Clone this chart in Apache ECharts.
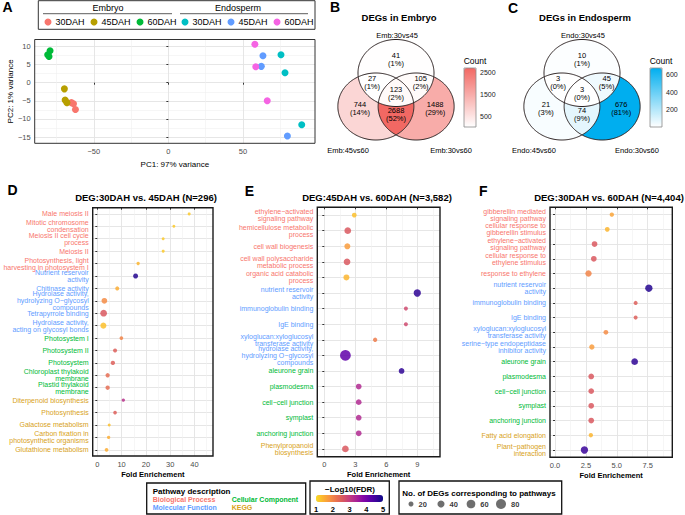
<!DOCTYPE html>
<html><head><meta charset="utf-8">
<script src="https://cdn.jsdelivr.net/npm/echarts@6/dist/echarts.min.js"></script>
<style>html,body{margin:0;padding:0;background:#fff}#c{width:685px;height:515px}</style>
</head><body><div id="c"></div>
<script>
// ================= DATA =================
// Panel A (PCA)
const pcaGroups = ['Embryo 30DAH','Embryo 45DAH','Embryo 60DAH','Endosperm 30DAH','Endosperm 45DAH','Endosperm 60DAH'];
const pcaEmb30 = [[-65,-5.5],[-63.6,-5.8],[-62.3,-7.4]];
const pcaEmb45 = [[-69.7,-1.7],[-69.2,-4.8],[-68,-5.5]];
const pcaEmb60 = [[-79.3,8.8],[-80.9,7.7],[-80,7.2]];
const pcaEndo30 = [[75.5,7.7],[78.2,2.75],[89.4,-11.6]];
const pcaEndo45 = [[63.4,7.4],[62.3,4.5],[79.8,-14.7]];
const pcaEndo60 = [[58,10.6],[58.6,4.4],[66.3,-5]];
const pcaXTicks = [-50,0,50];
const pcaYTicks = [-15,-10,-5,0,5,10];

// Panels B, C (Venn) — regions: A only, A∩B, A∩C, A∩B∩C, B only, B∩C, C only
const embSets = ['Emb:30vs45','Emb:45vs60','Emb:30vs60'];
const embCounts = [41,27,105,123,744,2688,1488];
const embPct = ['1%','1%','2%','2%','14%','52%','29%'];
const embCountTicks = [500,1500,2500];
const endoSets = ['Endo:30vs45','Endo:45vs60','Endo:30vs60'];
const endoCounts = [10,3,45,3,21,74,676];
const endoPct = ['1%','0%','5%','0%','3%','9%','81%'];
const endoCountTicks = [200,400,600];

// Panel D
const dTerms = ['Male meiosis II','Mitotic chromosome\ncondensation','Meiosis II cell cycle\nprocess','Meiosis II',
  'Photosynthesis, light\nharvesting in photosystem I','Nutrient reservoir\nactivity','Chitinase activity',
  'Hydrolase activity,\nhydrolyzing O\u2212glycosyl\ncompounds','Tetrapyrrole binding','Hydrolase activity,\nacting on glycosyl bonds',
  'Photosystem I','Photosystem II','Photosystem','Chloroplast thylakoid\nmembrane','Plastid thylakoid\nmembrane',
  'Diterpenoid biosynthesis','Photosynthesis','Galactose metabolism','Carbon fixation in\nphotosynthetic organisms','Glutathione metabolism'];
const dType = ['BP','BP','BP','BP','BP','MF','MF','MF','MF','MF','CC','CC','CC','CC','CC','KEGG','KEGG','KEGG','KEGG','KEGG'];
const dFold = [37.8,31.5,27.1,27.1,16.8,15.75,8.2,2.9,2.6,2.5,9.9,7.3,6.4,4.25,4.25,10.7,7.3,4.9,4.65,3.8];
const dFDR = [1.2,1.2,1.2,1.2,1.4,4.8,1.5,1.9,2.6,1.3,2.0,2.5,2.5,2.3,2.3,3.2,2.5,1.3,1.5,1.5];
const dGenes = [7,7,7,7,9,20,13,26,36,29,11,13,15,15,15,9,11,7,9,11];
const dXTicks = [0,10,20,30,40];

// Panel E
const eTerms = ['ethylene\u2212activated\nsignaling pathway','hemicellulose metabolic\nprocess','cell wall biogenesis',
  'cell wall polysaccharide\nmetabolic process','organic acid catabolic\nprocess','nutrient reservoir\nactivity',
  'immunoglobulin binding','IgE binding','xyloglucan:xyloglucosyl\ntransferase activity',
  'hydrolase activity,\nhydrolyzing O\u2212glycosyl\ncompounds','aleurone grain','plasmodesma','cell\u2212cell junction',
  'symplast','anchoring junction','Phenylpropanoid\nbiosynthesis'];
const eType = ['BP','BP','BP','BP','BP','MF','MF','MF','MF','MF','CC','CC','CC','CC','CC','KEGG'];
const eFold = [2.9,2.27,2.23,2.2,2.14,9.0,7.9,7.9,4.92,2.04,7.48,3.33,3.33,3.33,3.33,2.04];
const eFDR = [1.3,2.6,1.7,2.6,1.4,4.7,2.8,2.8,2.1,4.2,4.7,3.3,3.3,3.3,3.3,2.6];
const eGenes = [18,36,29,36,29,43,13,13,15,91,26,26,26,26,26,36];
const eXTicks = [0,3,6,9];

// Panel F
const fTerms = ['gibberellin mediated\nsignaling pathway','cellular response to\ngibberellin stimulus',
  'ethylene\u2212activated\nsignaling pathway','cellular response to\nethylene stimulus','response to ethylene',
  'nutrient reservoir\nactivity','immunoglobulin binding','IgE binding','xyloglucan:xyloglucosyl\ntransferase activity',
  'serine\u2212type endopeptidase\ninhibitor activity','aleurone grain','plasmodesma','cell\u2212cell junction','symplast',
  'anchoring junction','Fatty acid elongation','Plant\u2212pathogen\ninteraction'];
const fType = ['BP','BP','BP','BP','BP','MF','MF','MF','MF','MF','CC','CC','CC','CC','CC','KEGG','KEGG'];
const fFold = [4.6,4.23,3.2,3.14,2.71,7.6,6.53,6.53,4.12,2.98,6.45,2.93,2.93,2.93,2.93,2.9,2.38];
const fFDR = [1.6,1.4,2.6,2.6,2.0,4.8,2.5,2.5,1.9,1.7,4.7,2.6,2.6,2.6,2.6,1.4,4.6];
const fGenes = [15,18,26,26,32,43,13,13,18,23,36,26,26,26,26,15,43];
const fXTicks = [0,2.5,5,7.5];

// Legends
const fdrTicks = [1,2,3,4,5];
const sizeLegendValues = [20,40,60,80];
const pathwayTypes = ['Biological Process','Molecular Function','Cellular Component','KEGG'];

// ================= STYLE / LAYOUT =================
const FONT = "'Liberation Sans', Arial, Helvetica, sans-serif";
const TYPE_COLOR = {BP:'#F8766D', MF:'#619CFF', CC:'#00BA38', KEGG:'#D8A21A'};
const PCA_COLORS = ['#F8766D','#B79F00','#00BA38','#00BFC4','#619CFF','#F564E3'];
const PLASMA = ['#F9DC24','#FCB52F','#F89441','#E9744F','#D9585F','#C43E80','#A92395','#8707A6','#6001A9','#3A049A','#0D0887'];
const SIZE_K = 1.12;
const GRID_MAJ = '#E3E3E3', GRID_MIN = '#F0F0F0';

// Venn layout (circle centres in layout units, radius 1)
const VC = [[0,1],[-0.53,0],[0.53,0]];
const MASKS = [[1,0,0],[1,1,0],[1,0,1],[1,1,1],[0,1,0],[0,1,1],[0,0,1]];
const LABEL_POS = [[0,1.39],[-0.63,0.72],[0.65,0.72],[0,0.40],[-0.95,-0.07],[0,-0.25],[1.03,-0.07]];

function regionPolygon(mask) {
  const N = 720, arcs = [];
  for (let k = 0; k < 3; k++) {
    const flags = [], pts = [];
    for (let i = 0; i < N; i++) {
      const t = 2 * Math.PI * i / N;
      const p = [VC[k][0] + Math.cos(t), VC[k][1] + Math.sin(t)];
      let ok = true;
      for (let j = 0; j < 3; j++) {
        if (j === k) continue;
        const inside = Math.hypot(p[0] - VC[j][0], p[1] - VC[j][1]) < 1;
        if (inside !== (mask[j] === 1)) { ok = false; break; }
      }
      flags.push(ok); pts.push(p);
    }
    const f0 = flags.indexOf(false);
    if (f0 < 0) { arcs.push(pts); continue; }
    let run = null;
    for (let s = 1; s <= N; s++) {
      const i = (f0 + s) % N;
      if (flags[i]) { (run = run || []).push(pts[i]); }
      else if (run) { arcs.push(mask[k] ? run : run.reverse()); run = null; }
    }
    if (run) arcs.push(mask[k] ? run : run.reverse());
  }
  const poly = arcs.shift();
  while (arcs.length) {
    const last = poly[poly.length - 1];
    let bi = 0, bd = Infinity;
    arcs.forEach((a, i) => { const d = Math.hypot(a[0][0] - last[0], a[0][1] - last[1]); if (d < bd) { bd = d; bi = i; } });
    poly.push(...arcs.splice(bi, 1)[0]);
  }
  return poly;
}
const REGION_POLY = MASKS.map(regionPolygon);
const CIRCLE_POLY = VC.map(c => { const a = []; for (let i = 0; i < 240; i++) { const t = 2*Math.PI*i/240; a.push([c[0]+Math.cos(t), c[1]+Math.sin(t)]); } return a; });

// ================= BUILD OPTION =================
const grids = [], xAxes = [], yAxes = [], series = [], visualMaps = [], graphics = [];
function addGrid(g) { grids.push(Object.assign({show:false, containLabel:false}, g)); return grids.length - 1; }
function txt(text, x, y, size, opts) {
  graphics.push({type:'text', x, y, silent:true, z:100,
    style:Object.assign({text, fontSize:size, fontFamily:FONT, fill:'#000', align:'center', verticalAlign:'middle'}, opts || {})});
}
const minus = v => (v < 0 ? '\u2212' + Math.abs(v) : String(v));

function valuePair(kind, gi, min, max, major, minor, fmt, extra) {
  const arr = kind === 'x' ? xAxes : yAxes;
  const idx = arr.length;
  arr.push(Object.assign({
    type:'value', gridIndex:gi, min, max,
    axisLine:{show:false},
    axisTick:{show:true, length:2, lineStyle:{color:'#333', width:1}, customValues:major},
    axisLabel:{show:true, customValues:major, formatter:fmt || minus, fontSize:7.5, color:'#4D4D4D', fontFamily:FONT, margin:4},
    splitLine:{show:true, lineStyle:{color:GRID_MAJ, width:0.9}}
  }, extra || {}));
  arr.push({type:'value', gridIndex:gi, min, max, axisLine:{show:false},
    axisTick:{show:false, customValues:minor}, axisLabel:{show:false, customValues:minor},
    splitLine:{show:true, lineStyle:{color:GRID_MIN, width:0.6}}});
  return idx;
}
function catY(gi, terms, types) {
  const idx = yAxes.length;
  yAxes.push({type:'category', gridIndex:gi, data:terms, inverse:true, boundaryGap:true,
    axisLine:{show:false},
    axisTick:{show:true, alignWithLabel:true, length:2, lineStyle:{color:'#333'}},
    axisLabel:{interval:0, fontSize:7, lineHeight:7, margin:4, fontFamily:FONT, color:(v, i) => TYPE_COLOR[types[i]]},
    splitLine:{show:false}});
  const vals = terms.map((_, i) => i + 0.5);
  yAxes.push({type:'value', gridIndex:gi, min:0, max:terms.length, inverse:true, axisLine:{show:false},
    axisTick:{show:false, customValues:vals}, axisLabel:{show:false, customValues:vals},
    splitLine:{show:true, lineStyle:{color:GRID_MAJ, width:0.9}}});
  return idx;
}

// ---------- Panel A ----------
const gA = addGrid({left:34.7, top:39.5, width:280.3, height:103.8, show:true, borderColor:'#333', borderWidth:1, z:5});
const xA = valuePair('x', gA, -89.6, 98.3, pcaXTicks, [-75,-25,25,75],
  null, {name:'PC1: 97% variance', nameLocation:'middle', nameGap:17, nameTextStyle:{fontSize:8, fontFamily:FONT, color:'#000'}});
const yA = valuePair('y', gA, -16.7, 11.9, pcaYTicks, [-12.5,-7.5,-2.5,2.5,7.5],
  null, {name:'PC2: 1% variance', nameLocation:'middle', nameGap:20, nameRotate:90, nameTextStyle:{fontSize:8, fontFamily:FONT, color:'#000'}});
[pcaEmb30, pcaEmb45, pcaEmb60, pcaEndo30, pcaEndo45, pcaEndo60].forEach((d, i) => {
  series.push({type:'scatter', name:pcaGroups[i], xAxisIndex:xA, yAxisIndex:yA, data:d, symbolSize:7,
    itemStyle:{color:PCA_COLORS[i], opacity:1}, z:3});
});
const legendA = [
  {data:pcaGroups.slice(0,3), left:44.5, top:17.5},
  {data:pcaGroups.slice(3), left:181.5, top:17.5}
].map(l => Object.assign({icon:'circle', itemWidth:7, itemHeight:7, itemGap:6, padding:0, selectedMode:false,
  textStyle:{fontSize:9, fontFamily:FONT, color:'#000', padding:[0,0,0,-1]}, formatter:n => n.split(' ')[1]}, l));
graphics.push({type:'rect', silent:true, shape:{x:38.3, y:0.7, width:276.7, height:28.6}, style:{fill:'none', stroke:'#333', lineWidth:1}});
graphics.push({type:'line', silent:true, shape:{x1:43, y1:13.7, x2:172, y2:13.7}, style:{stroke:'#333', lineWidth:0.8}});
graphics.push({type:'line', silent:true, shape:{x1:180, y1:13.7, x2:308, y2:13.7}, style:{stroke:'#333', lineWidth:0.8}});
txt('Embryo', 108, 7.5, 9);
txt('Endosperm', 238, 7.5, 9);

// ---------- Panels B, C (Venn) ----------
function venn(cx, sets, counts, pcts, ticks, hiColor, titleText) {
  const gi = addGrid({left:cx - 1.6*38, top:106.5 - 2.2*33.5, width:3.2*38, height:3.5*33.5});
  const xi = xAxes.length; xAxes.push({type:'value', gridIndex:gi, min:-1.6, max:1.6, show:false});
  const yi = yAxes.length; yAxes.push({type:'value', gridIndex:gi, min:-1.3, max:2.2, show:false});
  const regIdx = series.length;
  series.push({type:'custom', coordinateSystem:'cartesian2d', xAxisIndex:xi, yAxisIndex:yi, silent:true, z:2,
    data:counts.map((c, i) => [0, 0, c, i]),
    renderItem:(p, api) => ({type:'polygon', shape:{points:REGION_POLY[api.value(3)].map(q => api.coord(q))},
      style:{fill:api.visual('color'), stroke:null}})});
  series.push({type:'custom', coordinateSystem:'cartesian2d', xAxisIndex:xi, yAxisIndex:yi, silent:true, z:3,
    data:sets.map((s, i) => [0, 0, i]),
    renderItem:(p, api) => ({type:'polygon', shape:{points:CIRCLE_POLY[api.value(2)].map(q => api.coord(q))},
      style:{fill:'none', stroke:'#2A2020', lineWidth:1}})});
  series.push({type:'custom', coordinateSystem:'cartesian2d', xAxisIndex:xi, yAxisIndex:yi, silent:true, z:4,
    data:counts.map((c, i) => [0, 0, c, i]),
    renderItem:(p, api) => { const i = api.value(3); const pt = api.coord(LABEL_POS[i]);
      return {type:'text', x:pt[0], y:pt[1], style:{text:counts[i] + '\n(' + pcts[i] + ')', fontSize:7.5, lineHeight:8,
        fontFamily:FONT, fill:'#000', align:'center', verticalAlign:'middle'}}; }});
  const vmin = Math.min(...counts), vmax = Math.max(...counts);
  visualMaps.push({type:'continuous', seriesIndex:regIdx, dimension:2, min:vmin, max:vmax, calculable:false,
    orient:'vertical', left:cx + 68, top:68, itemWidth:12, itemHeight:59, padding:0, text:null, hoverLink:false,
    inRange:{color:['#FFFFFF', hiColor]}});
  const cg = addGrid({left:cx + 68, top:68, width:12, height:59, show:true, borderColor:'#8C8C8C', borderWidth:0.8, z:10});
  xAxes.push({type:'value', gridIndex:cg, min:0, max:1, show:false});
  yAxes.push({type:'value', gridIndex:cg, min:vmin, max:vmax, position:'right', axisLine:{show:false},
    axisTick:{show:true, length:2, lineStyle:{color:'#333'}, customValues:ticks},
    axisLabel:{customValues:ticks, formatter:v => String(v), fontSize:7, color:'#222', fontFamily:FONT, margin:4}, splitLine:{show:false}});
  txt('Count', cx + 79, 61, 8.5);
  txt(titleText, cx + 3, 17, 9.5, {fontWeight:'bold'});
  txt(sets[0], cx + 1, 35, 7.5);
  txt(sets[1], cx - 48, 150, 7.5);
  txt(sets[2], cx + 55, 150, 7.5);
}
venn(396, embSets, embCounts, embPct, embCountTicks, '#F26863', 'DEGs in Embryo');
venn(582, endoSets, endoCounts, endoPct, endoCountTicks, '#00AEEF', 'DEGs in Endosperm');

// ---------- Panels D, E, F ----------
const bubbleSeries = [];
function dotPanel(g, xmin, xmax, ticks, minor, fmt, terms, types, fold, fdr, genes, title, titleX) {
  const gi = addGrid(Object.assign({show:true, borderColor:'#1A1A1A', borderWidth:1.4, z:5}, g));
  const xi = valuePair('x', gi, xmin, xmax, ticks, minor, fmt,
    {name:'Fold Enrichement', nameLocation:'middle', nameGap:14, nameTextStyle:{fontSize:7.5, fontWeight:'bold', fontFamily:FONT, color:'#000'}});
  const yi = catY(gi, terms, types);
  bubbleSeries.push(series.length);
  series.push({type:'scatter', xAxisIndex:xi, yAxisIndex:yi, z:3,
    data:terms.map((t, i) => [fold[i], t, fdr[i], genes[i]]),
    encode:{x:0, y:1}, symbolSize:v => SIZE_K * Math.sqrt(v[3]), itemStyle:{opacity:0.85}});
  txt(title, titleX, 197, 9.5, {fontWeight:'bold'});
}
dotPanel({left:92.7, top:207.7, width:120.3, height:248.3}, -1.9, 47.6, dXTicks, [5,15,25,35,45], null,
  dTerms, dType, dFold, dFDR, dGenes, 'DEG:30DAH vs. 45DAH (N=296)', 146);
dotPanel({left:317.3, top:207.3, width:122.7, height:249.4}, -0.68, 11.2, eXTicks, [1.5,4.5,7.5,10.5], null,
  eTerms, eType, eFold, eFDR, eGenes, 'DEG:45DAH vs. 60DAH (N=3,582)', 377);
dotPanel({left:550, top:207.3, width:122.3, height:250}, -0.41, 9.5, fXTicks, [1.25,3.75,6.25,8.75], v => v.toFixed(1),
  fTerms, fType, fFold, fFDR, fGenes, 'DEG:30DAH vs. 60DAH (N=4,404)', 609);
visualMaps.push({type:'continuous', seriesIndex:bubbleSeries, dimension:2, min:1, max:5, calculable:false,
  orient:'horizontal', left:316, top:495, itemWidth:7, itemHeight:67, padding:0, text:null, hoverLink:false,
  inRange:{color:PLASMA}});

// ---------- Bottom legends ----------
graphics.push({type:'rect', silent:true, shape:{x:146.7, y:483, width:159, height:31}, style:{fill:'none', stroke:'#111', lineWidth:1.3}});
graphics.push({type:'rect', silent:true, shape:{x:310, y:481, width:79.3, height:33}, style:{fill:'none', stroke:'#111', lineWidth:1.3}});
graphics.push({type:'rect', silent:true, shape:{x:399, y:481, width:162.7, height:33}, style:{fill:'none', stroke:'#111', lineWidth:1.3}});
txt('Pathway description', 152.7, 491.7, 8, {fontWeight:'bold', align:'left'});
txt(pathwayTypes[0], 152.7, 499.5, 7, {fontWeight:'bold', align:'left', fill:TYPE_COLOR.BP});
txt(pathwayTypes[2], 231.7, 499.5, 7, {fontWeight:'bold', align:'left', fill:TYPE_COLOR.CC});
txt(pathwayTypes[1], 152.7, 507.7, 7, {fontWeight:'bold', align:'left', fill:TYPE_COLOR.MF});
txt(pathwayTypes[3], 231.7, 507.7, 7, {fontWeight:'bold', align:'left', fill:TYPE_COLOR.KEGG});
txt('\u2212Log10(FDR)', 350, 489, 8, {fontWeight:'bold'});
txt('No. of DEGs corresponding to pathways', 402.3, 493, 8, {fontWeight:'bold', align:'left'});

const gFdr = addGrid({left:316, top:495, width:67, height:7});
xAxes.push({type:'value', gridIndex:gFdr, min:1, max:5, axisLine:{show:false}, axisTick:{show:false, customValues:fdrTicks},
  axisLabel:{customValues:fdrTicks, fontSize:7.5, fontWeight:'bold', color:'#000', fontFamily:FONT, margin:3}, splitLine:{show:false}});
yAxes.push({type:'value', gridIndex:gFdr, min:0, max:1, show:false});

const gSize = addGrid({left:396, top:497, width:120, height:14});
const xSize = xAxes.length;
xAxes.push({type:'category', gridIndex:gSize, data:sizeLegendValues.map(String), show:false, boundaryGap:true});
const ySize = yAxes.length;
yAxes.push({type:'value', gridIndex:gSize, min:-1, max:1, show:false});
series.push({type:'scatter', xAxisIndex:xSize, yAxisIndex:ySize, silent:true,
  data:sizeLegendValues.map(v => [String(v), 0, v]), symbolSize:v => SIZE_K * Math.sqrt(v[2]),
  itemStyle:{color:'#4A4A4A'},
  label:{show:true, position:'right', distance:5, formatter:p => String(p.value[2]), fontSize:7.5, fontWeight:'bold', color:'#000', fontFamily:FONT}});

// ---------- Panel letters ----------
[['A',7.5,7],['B',335,7],['C',513,8],['D',12.5,190],['E',249.5,190.5],['F',483.3,191]].forEach(l => txt(l[0], l[1], l[2], 14, {fontWeight:'bold'}));

const chart = echarts.init(document.getElementById('c'), null, {renderer:'svg', width:685, height:515});
chart.setOption({
  animation:false,
  backgroundColor:'#fff',
  textStyle:{fontFamily:FONT},
  grid:grids, xAxis:xAxes, yAxis:yAxes, series, visualMap:visualMaps, legend:legendA, graphic:graphics
});
</script>
</body></html>
